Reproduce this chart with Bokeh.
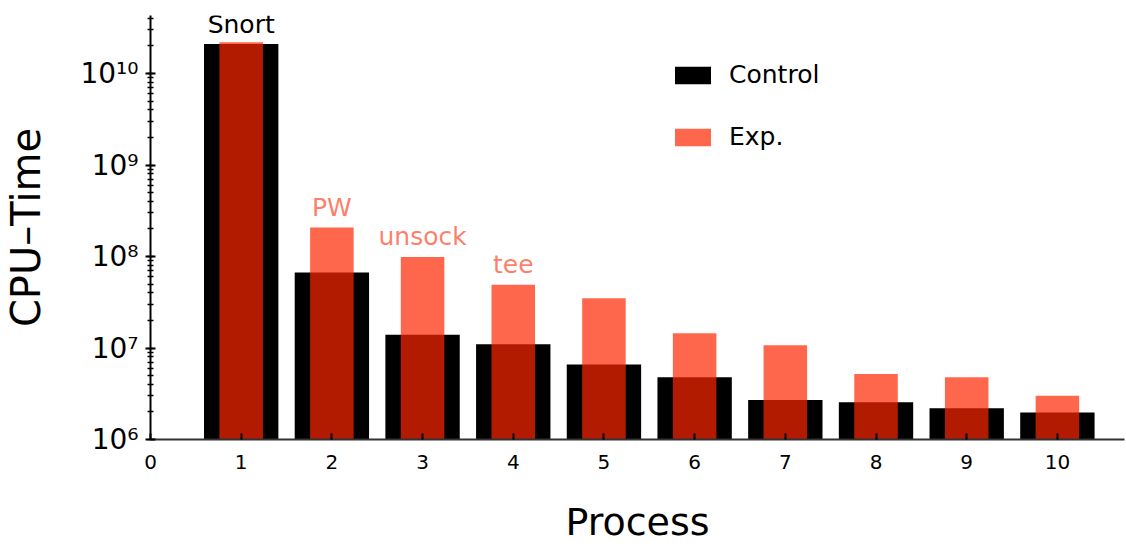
from bokeh.plotting import figure
from bokeh.models import Range1d, FixedTicker, Legend, LegendItem, ColumnDataSource, LogTicker
from bokeh.core.properties import value
from bokeh.embed import file_html
from bokeh.resources import INLINE

processes = [1, 2, 3, 4, 5, 6, 7, 8, 9, 10]
control = [2.1e10, 6.7e7, 1.4e7, 1.1e7, 6.6e6, 4.8e6, 2.7e6, 2.55e6, 2.2e6, 1.97e6]
exp = [2.2e10, 2.07e8, 9.9e7, 4.9e7, 3.5e7, 1.45e7, 1.07e7, 5.2e6, 4.8e6, 3.0e6]

x_ticks = [0, 1, 2, 3, 4, 5, 6, 7, 8, 9, 10]
y_ticks = [1e6, 1e7, 1e8, 1e9, 1e10]
y_tick_labels = ["10⁶", "10⁷", "10⁸", "10⁹", "10¹⁰"]

ann_black_x = [1]
ann_black_y = [control[0]]
ann_black_text = ["Snort"]
ann_red_x = [2, 3, 4]
ann_red_y = [exp[1], exp[2], exp[3]]
ann_red_text = ["PW", "unsock", "tee"]

FONT = "DejaVu Sans"
EXP_COLOR = "#FF2600"

p = figure(width=1126, height=546, y_axis_type="log",
           x_range=Range1d(0, 10.74), y_range=Range1d(1e6, 10 ** 10.634),
           output_backend="svg", toolbar_location=None,
           min_border_left=150, min_border_bottom=107, min_border_top=15, min_border_right=2)
p.outline_line_color = None
p.xgrid.grid_line_color = None
p.ygrid.grid_line_color = None
p.background_fill_color = "white"

src = ColumnDataSource(dict(x=processes, control=control, exp=exp))
bottom = 1e6
r_ctrl = p.vbar(x="x", top="control", bottom=bottom, width=0.82, source=src,
                fill_color="black", line_color=None)
r_exp = p.vbar(x="x", top="exp", bottom=bottom, width=0.48, source=src,
               fill_color=EXP_COLOR, fill_alpha=0.7, line_color=None)

p.text(x=ann_black_x, y=ann_black_y, text=ann_black_text, text_font=value(FONT),
       text_font_size="25px", text_color="black", text_align="center",
       text_baseline="bottom", y_offset=-5)
p.text(x=ann_red_x, y=ann_red_y, text=ann_red_text, text_font=value(FONT),
       text_font_size="25px", text_color=EXP_COLOR, text_alpha=0.6, text_align="center",
       text_baseline="bottom", y_offset=-6)

legend = Legend(items=[LegendItem(label="Control", renderers=[r_ctrl]),
                       LegendItem(label="Exp.", renderers=[r_exp])],
                location=(520, 288), glyph_width=45, glyph_height=22,
                label_standoff=14, spacing=33, padding=0, margin=0,
                border_line_alpha=0, background_fill_alpha=0,
                label_text_font=FONT, label_text_font_size="25px",
                label_text_color="black")
p.add_layout(legend)

xa = p.xaxis[0]
xa.ticker = FixedTicker(ticks=x_ticks, minor_ticks=[])
xa.axis_label = "Process"
xa.axis_label_text_font = FONT
xa.axis_label_text_font_size = "38px"
xa.axis_label_text_font_style = "normal"
xa.axis_label_text_color = "black"
xa.axis_label_standoff = 28
xa.major_label_text_font = FONT
xa.major_label_text_font_size = "20px"
xa.major_label_text_color = "black"
xa.major_label_standoff = 15
xa.major_tick_in = 6
xa.major_tick_out = 0
xa.minor_tick_in = 0
xa.minor_tick_out = 0
xa.axis_line_width = 2
xa.axis_line_color = "#333333"
xa.major_tick_line_width = 2
xa.major_tick_line_color = "black"

ya = p.yaxis[0]
ya.ticker = LogTicker(num_minor_ticks=10, desired_num_ticks=5)
ya.major_label_overrides = {int(t): lab for t, lab in zip(y_ticks, y_tick_labels)}
ya.axis_label = "CPU–Time"
ya.axis_label_text_font = FONT
ya.axis_label_text_font_size = "40px"
ya.axis_label_text_font_style = "normal"
ya.axis_label_text_color = "black"
ya.axis_label_standoff = 28
ya.major_label_text_font = FONT
ya.major_label_text_font_size = "28px"
ya.major_label_text_color = "black"
ya.major_label_standoff = 7
ya.major_tick_in = 5
ya.major_tick_out = 5
ya.minor_tick_in = 3
ya.minor_tick_out = 3
ya.axis_line_width = 2
ya.axis_line_color = "black"
ya.major_tick_line_width = 2
ya.major_tick_line_color = "black"
ya.minor_tick_line_width = 1.5
ya.minor_tick_line_color = "black"

open("out.html", "w").write(file_html(p, INLINE))
